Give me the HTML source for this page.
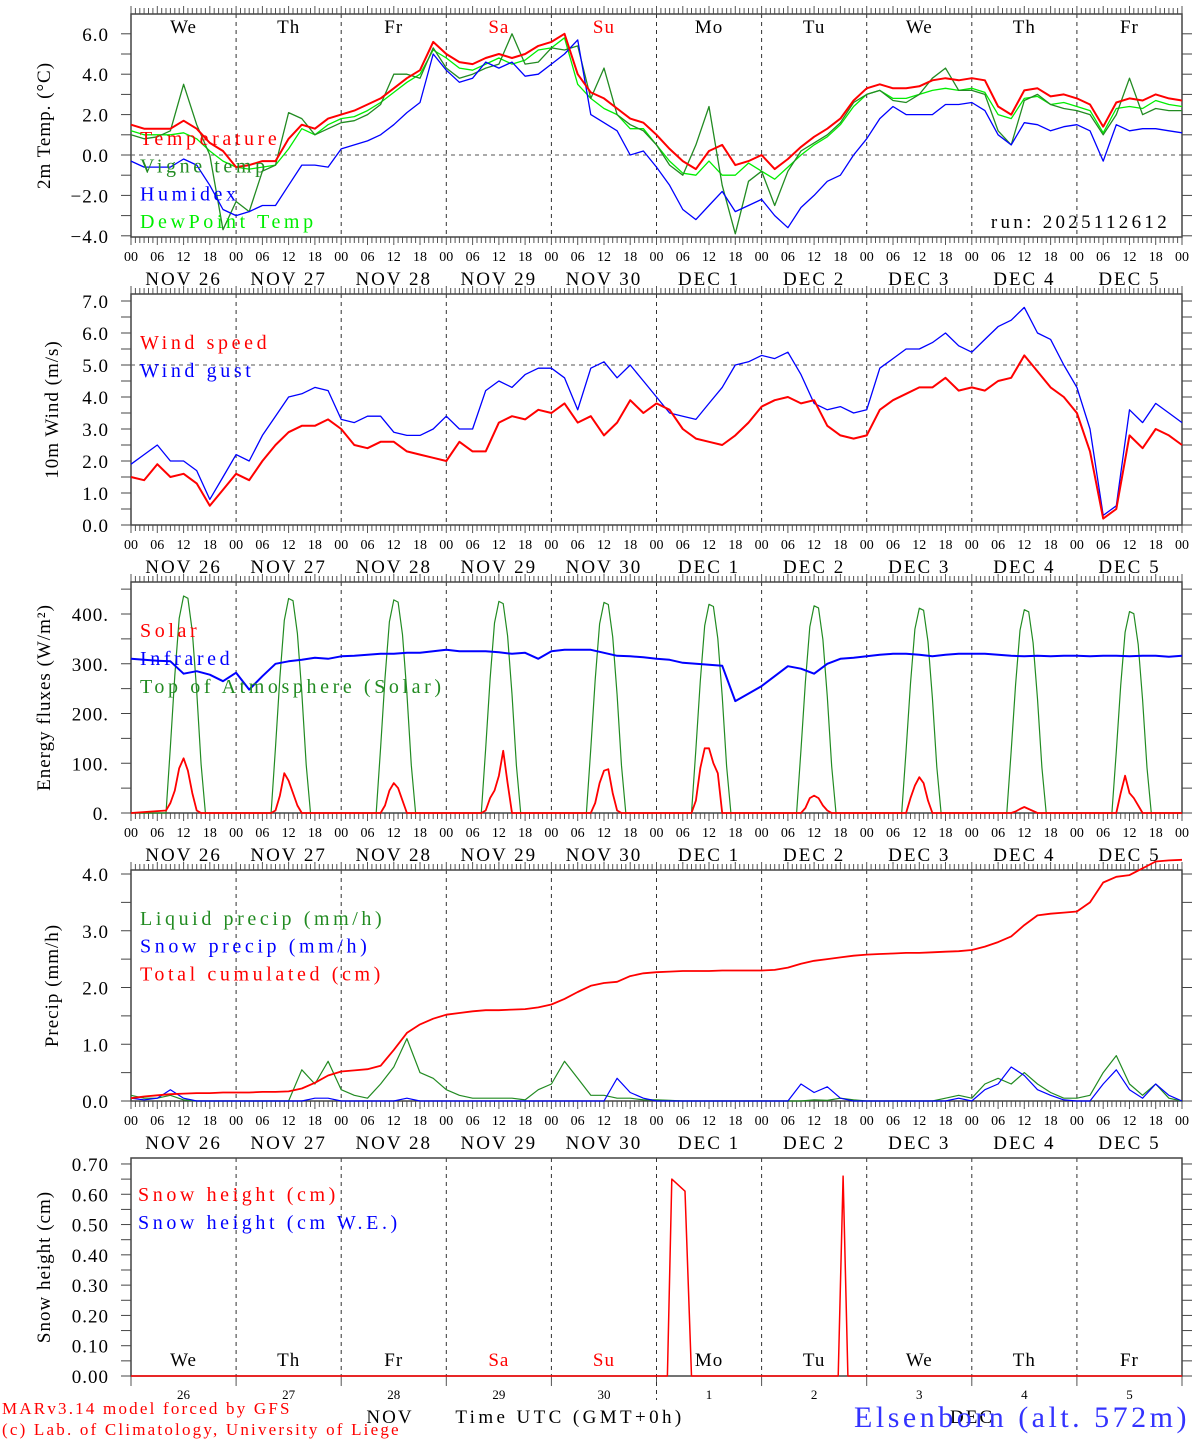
<!DOCTYPE html>
<html><head><meta charset="utf-8"><style>
html,body{margin:0;padding:0;background:#fff;}
svg{display:block;}
text{font-family:"Liberation Serif",serif;}
</style></head><body>
<svg id="chart" width="1194" height="1440" viewBox="0 0 1194 1440" xmlns="http://www.w3.org/2000/svg"></svg>
<script>
// ---- data (3-hourly, hour 0..240) ----
const dayNames=["We","Th","Fr","Sa","Su","Mo","Tu","We","Th","Fr"];
const dateLabels=["NOV  26","NOV  27","NOV  28","NOV  29","NOV  30","DEC   1","DEC   2","DEC   3","DEC   4","DEC   5"];
const dayNums=["26","27","28","29","30","1","2","3","4","5"];
const tempVals=[1.5,1.3,1.3,1.3,1.7,1.3,0.6,0.2,-0.6,-0.5,-0.3,-0.3,0.8,1.5,1.3,1.8,2.0,2.2,2.5,2.8,3.3,3.8,4.2,5.6,5.0,4.6,4.5,4.8,5.0,4.8,5.0,5.4,5.6,6.0,4.0,3.1,2.8,2.3,1.8,1.6,1.0,0.3,-0.3,-0.7,0.2,0.5,-0.5,-0.3,0.0,-0.7,-0.2,0.4,0.9,1.3,1.8,2.7,3.3,3.5,3.3,3.3,3.4,3.7,3.8,3.7,3.8,3.7,2.4,2.0,3.2,3.3,2.9,3.0,2.8,2.5,1.4,2.6,2.8,2.7,3.0,2.8,2.7];
const dewVals=[1.2,1.0,1.0,1.0,1.1,0.8,0.2,-0.3,-0.6,-0.7,-0.6,-0.5,0.3,1.3,1.0,1.5,1.8,1.9,2.2,2.6,3.1,3.6,4.0,5.2,4.8,4.3,4.2,4.5,4.8,4.5,4.7,5.2,5.3,5.8,3.5,2.8,2.3,2.0,1.3,1.3,0.5,-0.3,-0.9,-1.0,-0.3,-1.0,-1.0,-0.4,-0.8,-1.2,-0.6,0.0,0.5,0.9,1.5,2.4,3.0,3.2,2.8,2.8,3.0,3.2,3.3,3.2,3.3,3.1,2.0,1.8,2.8,2.9,2.5,2.6,2.4,2.2,1.1,2.3,2.4,2.3,2.7,2.5,2.4];
const vigneVals=[1.0,0.8,0.9,1.2,3.5,1.5,0.0,-3.7,-2.3,-2.8,-0.8,-0.5,2.1,1.8,1.0,1.3,1.6,1.7,2.0,2.5,4.0,4.0,3.8,5.3,4.3,3.8,4.0,4.3,4.5,6.0,4.5,4.6,5.3,5.2,5.4,2.8,4.3,2.0,1.5,1.2,0.5,-0.5,-1.0,0.5,2.4,-1.5,-3.9,-1.3,-0.8,-2.5,-0.8,0.2,0.6,1.0,1.6,2.6,3.0,3.2,2.7,2.6,3.0,3.8,4.3,3.2,3.2,3.0,1.2,0.5,2.7,3.0,2.5,2.3,2.2,2.0,1.0,2.0,3.8,2.0,2.3,2.2,2.2];
const humidexVals=[-0.3,-0.6,-0.6,-0.6,-0.2,-0.5,-1.5,-2.7,-3.0,-2.8,-2.5,-2.5,-1.5,-0.5,-0.5,-0.6,0.3,0.5,0.7,1.0,1.5,2.1,2.6,5.0,4.2,3.6,3.8,4.6,4.3,4.6,3.9,4.0,4.5,5.0,5.7,2.0,1.6,1.2,0.0,0.2,-0.6,-1.5,-2.7,-3.2,-2.5,-1.8,-2.8,-2.5,-2.2,-3.0,-3.6,-2.6,-2.0,-1.3,-1.0,0.0,0.8,1.8,2.4,2.0,2.0,2.0,2.5,2.5,2.6,2.2,1.0,0.5,1.6,1.5,1.2,1.4,1.5,1.2,-0.3,1.5,1.2,1.3,1.3,1.2,1.1];
const windVals=[1.5,1.4,1.9,1.5,1.6,1.3,0.6,1.1,1.6,1.4,2.0,2.5,2.9,3.1,3.1,3.3,3.0,2.5,2.4,2.6,2.6,2.3,2.2,2.1,2.0,2.6,2.3,2.3,3.2,3.4,3.3,3.6,3.5,3.8,3.2,3.4,2.8,3.2,3.9,3.5,3.8,3.6,3.0,2.7,2.6,2.5,2.8,3.2,3.7,3.9,4.0,3.8,3.9,3.1,2.8,2.7,2.8,3.6,3.9,4.1,4.3,4.3,4.6,4.2,4.3,4.2,4.5,4.6,5.3,4.8,4.3,4.0,3.5,2.3,0.2,0.5,2.8,2.4,3.0,2.8,2.5];
const gustVals=[1.9,2.2,2.5,2.0,2.0,1.7,0.8,1.5,2.2,2.0,2.8,3.4,4.0,4.1,4.3,4.2,3.3,3.2,3.4,3.4,2.9,2.8,2.8,3.0,3.4,3.0,3.0,4.2,4.5,4.3,4.7,4.9,4.9,4.6,3.6,4.9,5.1,4.6,5.0,4.5,4.0,3.5,3.4,3.3,3.8,4.3,5.0,5.1,5.3,5.2,5.4,4.7,3.8,3.6,3.7,3.5,3.6,4.9,5.2,5.5,5.5,5.7,6.0,5.6,5.4,5.8,6.2,6.4,6.8,6.0,5.8,5.0,4.3,3.0,0.3,0.6,3.6,3.2,3.8,3.5,3.2];
const irVals=[310,308,306,305,280,285,278,265,282,248,275,300,305,308,312,310,315,316,318,320,320,322,322,325,328,325,325,325,323,320,322,310,325,328,328,328,322,316,315,313,310,308,302,300,298,296,225,240,255,275,295,290,280,300,310,312,315,318,320,320,318,315,318,320,320,320,318,316,315,316,315,316,316,315,316,316,315,316,316,314,316];
const toaPeaks=[445,440,437,434,432,428,425,420,417,413];
const toaShape=[0,0.3,0.62,0.88,0.98,0.97,0.82,0.55,0.22,0]; // hours 8..17
const solarDays=[[5,20,45,90,110,85,40,5,0,0],[0,5,35,80,65,40,15,0,0,0],[0,0,15,45,60,50,25,0,0,0],[0,5,30,45,75,125,60,0,0,0],[0,0,20,60,85,88,40,5,0,0],[0,25,90,130,130,100,80,0,0,0],[0,0,10,30,35,30,15,5,0,0],[0,0,30,55,72,60,25,0,0,0],[0,0,3,8,12,8,4,0,0,0],[0,0,40,75,40,30,15,0,0,0]];
const totalVals=[0.05,0.08,0.1,0.12,0.13,0.14,0.14,0.15,0.15,0.15,0.16,0.16,0.17,0.22,0.32,0.45,0.52,0.54,0.56,0.62,0.9,1.2,1.35,1.45,1.52,1.55,1.58,1.6,1.6,1.61,1.62,1.65,1.7,1.8,1.92,2.03,2.08,2.1,2.2,2.25,2.27,2.28,2.29,2.29,2.29,2.3,2.3,2.3,2.3,2.31,2.35,2.42,2.47,2.5,2.53,2.56,2.58,2.59,2.6,2.61,2.61,2.62,2.63,2.64,2.66,2.72,2.8,2.9,3.1,3.27,3.3,3.32,3.34,3.5,3.85,3.95,3.98,4.1,4.22,4.24,4.25];
const liquidVals=[0.1,0.05,0.05,0.1,0.02,0,0,0,0,0,0,0,0,0.55,0.3,0.7,0.2,0.1,0.05,0.3,0.6,1.1,0.5,0.4,0.2,0.1,0.05,0.05,0.05,0.05,0.02,0.2,0.3,0.7,0.4,0.1,0.1,0.05,0.05,0.02,0.02,0.01,0,0,0,0,0,0,0,0,0,0,0.02,0.01,0.05,0.02,0,0,0,0,0,0,0.05,0.1,0.05,0.3,0.4,0.3,0.5,0.3,0.15,0.05,0.05,0.1,0.5,0.8,0.3,0.1,0.3,0.05,0];
const snowPVals=[0.05,0.02,0.05,0.2,0.05,0,0,0,0,0,0,0,0,0,0.05,0.05,0,0,0,0,0,0.05,0,0,0,0,0,0,0,0,0,0,0,0,0,0,0,0.4,0.15,0.05,0,0,0,0,0,0,0,0,0,0,0,0.3,0.15,0.25,0.05,0,0,0,0,0,0,0,0,0.05,0,0.2,0.3,0.6,0.45,0.2,0.1,0.02,0,0,0.3,0.55,0.2,0.05,0.3,0.1,0];
const snowT=[0,122.5,123.5,126.5,128,161.5,162.6,163.7,240];
const snowV=[0,0,0.65,0.61,0,0,0.66,0,0];

// ---- geometry ----
const X0=131,X1=1182,HRS=240;
const xs=h=>X0+(X1-X0)*h/HRS;
const panels=[
 {top:14,bot:237,y0:155,k:20.2},
 {top:294,bot:525,y0:525,k:32},
 {top:582,bot:813,y0:813,k:0.4975},
 {top:870,bot:1101,y0:1101,k:56.75},
 {top:1158,bot:1376,y0:1376,k:302.9}
];
const svg=document.getElementById('chart');
const NS='http://www.w3.org/2000/svg';
function el(tag,attrs,parent){const e=document.createElementNS(NS,tag);for(const a in attrs)e.setAttribute(a,attrs[a]);(parent||svg).appendChild(e);return e;}
function txt(s,x,y,size,color,anchor,parent,extra){const t=el('text',Object.assign({x:x,y:y,'font-size':size,fill:color||'#000','text-anchor':anchor||'start'},extra||{}),parent);t.textContent=s;return t;}
function line3h(p,vals,color,w,name){
  const ys=v=>p.y0-p.k*v;
  const d=vals.map((v,i)=>(i?'L':'M')+xs(i*3).toFixed(1)+' '+ys(v).toFixed(1)).join(' ');
  const e=el('path',{d:d,fill:'none',stroke:color,'stroke-width':w,'stroke-linejoin':'round'});
  
  
  return e;
}
function lineXY(p,ts,vals,color,w,name){
  const d=vals.map((v,i)=>(i?'L':'M')+xs(ts[i]).toFixed(1)+' '+(p.y0-p.k*v).toFixed(1)).join(' ');
  const e=el('path',{d:d,fill:'none',stroke:color,'stroke-width':w,'stroke-linejoin':'round'});
  
  
  return e;
}
function frame(p,idx,yticks,ylabels,fmt,labelTxt,labelX){
  const g=el('g',{});
  
  
  for(let d=1;d<10;d++){el('line',{x1:xs(d*24),x2:xs(d*24),y1:p.top,y2:p.bot,stroke:'#333','stroke-width':1,'stroke-dasharray':'4,4'},g);}
  if(idx<4){
    let dt='';
    for(let h=0;h<=240;h++){const x=xs(h).toFixed(1);const L=(h%6==0)?8:6;dt+=`M${x} ${p.top}v${-L}M${x} ${p.bot}v${L}`;}
    el('path',{d:dt,stroke:'#555','stroke-width':1},g);
  } else {
    let dt='';
    for(let d=0;d<=10;d++){const x=xs(d*24).toFixed(1);dt+=`M${x} ${p.bot}v10`;}
    el('path',{d:dt,stroke:'#555','stroke-width':1},g);
  }
  el('rect',{x:X0,y:p.top,width:X1-X0,height:p.bot-p.top,fill:'none',stroke:'#444','stroke-width':1.5},g);
  yticks.forEach(v=>{const y=p.y0-p.k*v;el('line',{x1:X0-10,x2:X0,y1:y,y2:y,stroke:'#444','stroke-width':1},g);el('line',{x1:X1,x2:X1+10,y1:y,y2:y,stroke:'#444','stroke-width':1},g);});
  ylabels.forEach(v=>{const y=p.y0-p.k*v;txt(fmt(v),X0-22,y+7,19,'#000','end',g,{'letter-spacing':'1'});});
  const yl=txt(labelTxt,0,0,19,'#000','middle',g,{transform:`translate(${labelX},${(p.top+p.bot)/2}) rotate(-90)`,'letter-spacing':'1'});
  
  
  if(idx<4){
    for(let h=0;h<=240;h+=6){txt(String(h%24).padStart(2,'0'),xs(h),p.bot+24,14,'#000','middle',g);}
    for(let d=0;d<10;d++){txt(dateLabels[d],xs(d*24+12),p.bot+48,19,'#000','middle',g,{'xml:space':'preserve','letter-spacing':'2'});}
  }
  return g;
}
function legend(items,x,y0,dy){items.forEach((it,i)=>{const t=txt(it[0],x,y0+i*dy,20,it[1],'start',null,{'letter-spacing':'3.6'});});}

// Panel 1
const P1=panels[0];
frame(P1,0,[-4,-3,-2,-1,0,1,2,3,4,5,6],[-4,-2,0,2,4,6],v=>(v<0?'\u2212':'')+Math.abs(v).toFixed(1),'2m Temp. (\u00B0C)',50);
el('line',{x1:X0,x2:X1,y1:P1.y0,y2:P1.y0,stroke:'#555','stroke-dasharray':'4,4'});
dayNames.forEach((n,d)=>{const t=txt(n,xs(d*24+12),33,19,(d==3||d==4)?'#f00':'#000','middle',null,{'letter-spacing':'1'});});
line3h(P1,dewVals,'#00ee00',1.3,'dewpoint-line');
line3h(P1,vigneVals,'#228b22',1.3,'vigne-temp-line');
line3h(P1,humidexVals,'#0000ff',1.3,'humidex-line');
line3h(P1,tempVals,'#ff0000',2,'temperature-line');
legend([['Temperature','#f00','temperature'],['Vigne temp','#228b22','vigne'],['Humidex','#00f','humidex'],['DewPoint Temp','#0e0','dewpoint']],140,145,27.7);
txt('run: 2025112612',1170,228,19,'#000','end',null,{'letter-spacing':'3.3'});

// Panel 2
const P2=panels[1];
frame(P2,1,[0,0.5,1,1.5,2,2.5,3,3.5,4,4.5,5,5.5,6,6.5,7],[0,1,2,3,4,5,6,7],v=>v.toFixed(1),'10m Wind (m/s)',58);
el('line',{x1:X0,x2:X1,y1:P2.y0-P2.k*5,y2:P2.y0-P2.k*5,stroke:'#555','stroke-dasharray':'4,4'});
line3h(P2,gustVals,'#0000ff',1.3,'wind-gust-line');
line3h(P2,windVals,'#ff0000',2,'wind-speed-line');
legend([['Wind speed','#f00','wind-speed'],['Wind gust','#00f','wind-gust']],140,349,28);

// Panel 3
const P3=panels[2];
frame(P3,2,[0,50,100,150,200,250,300,350,400,450],[0,100,200,300,400],v=>v+'.','Energy fluxes (W/m\u00B2)',50);
const toaT=[],toaV=[],solT=[],solV=[];
for(let d=0;d<10;d++){for(let j=0;j<10;j++){toaT.push(d*24+8+j);toaV.push(toaPeaks[d]*toaShape[j]);solT.push(d*24+8+j);solV.push(solarDays[d][j]);}}
const toaT2=[0].concat(toaT,[240]),toaV2=[0].concat(toaV,[0]);
const solT2=[0].concat(solT,[240]),solV2=[0].concat(solV,[0]);
lineXY(P3,toaT2,toaV2,'#228b22',1.2,'toa-solar-line');
line3h(P3,irVals,'#0000ff',2,'infrared-line');
lineXY(P3,solT2,solV2,'#ff0000',1.8,'solar-line');
legend([['Solar','#f00','solar'],['Infrared','#00f','infrared'],['Top of Atmosphere (Solar)','#228b22','toa']],140,637,28);

// Panel 4
const P4=panels[3];
frame(P4,3,[0,0.5,1,1.5,2,2.5,3,3.5,4],[0,1,2,3,4],v=>v.toFixed(1),'Precip (mm/h)',58);
line3h(P4,liquidVals,'#228b22',1.2,'liquid-precip-line');
line3h(P4,snowPVals,'#0000ff',1.2,'snow-precip-line');
line3h(P4,totalVals,'#ff0000',1.8,'total-cumulated-line');
legend([['Liquid precip (mm/h)','#228b22','liquid'],['Snow precip (mm/h)','#00f','snow-precip'],['Total cumulated (cm)','#f00','total']],140,925,27.7);

// Panel 5
const P5=panels[4];
const t5=[];for(let i=0;i<=14;i++)t5.push(i*0.05);
frame(P5,4,t5,[0,0.1,0.2,0.3,0.4,0.5,0.6,0.7],v=>v.toFixed(2),'Snow height (cm)',50);
el('line',{x1:xs(120),x2:xs(120),y1:P5.top,y2:1400,stroke:'#333','stroke-dasharray':'4,4'});
lineXY(P5,snowT,snowV,'#ff0000',1.5,'snow-height-line');
legend([['Snow height (cm)','#f00','snow-height'],['Snow height (cm W.E.)','#00f','snow-we']],138,1201,28);
dayNames.forEach((n,d)=>{const t=txt(n,xs(d*24+12),1366,19,(d==3||d==4)?'#f00':'#000','middle',null,{'letter-spacing':'1'});});
dayNums.forEach((n,d)=>{txt(n,xs(d*24+12),1399,13,'#000','middle');});
txt('NOV',390,1423,19,'#000','middle',null,{'letter-spacing':'2'});
txt('DEC',972,1423,19,'#000','middle',null,{'letter-spacing':'2'});
txt('Time UTC (GMT+0h)',570,1423,19,'#000','middle',null,{'letter-spacing':'3.4'});
txt('MARv3.14 model forced by GFS',2,1414,17,'#f00','start',null,{'letter-spacing':'2.2'});
txt('(c) Lab. of Climatology, University of Liege',2,1435,17,'#f00','start',null,{'letter-spacing':'2.2'});
const st=txt('Elsenborn (alt. 572m)',1190,1427,30,'#33f','end',null,{'letter-spacing':'3.5'});


</script>
</body></html>
